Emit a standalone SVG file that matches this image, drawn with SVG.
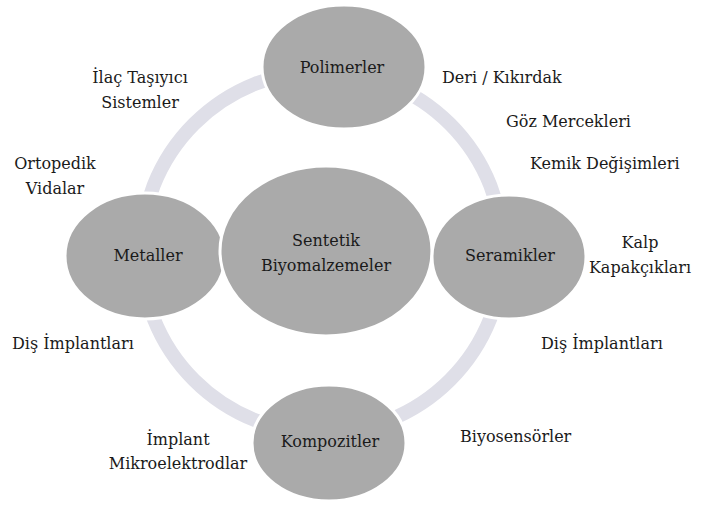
<svg xmlns="http://www.w3.org/2000/svg" width="701" height="506" viewBox="0 0 701 506">
<rect width="701" height="506" fill="#ffffff"/>
<g id="connectors">
<circle cx="322" cy="252" r="181" fill="none" stroke="#dfdfe8" stroke-width="14"/>
</g>
<g id="polimerler"><ellipse fill="#aaaaaa" stroke="#ffffff" stroke-width="3" cx="344" cy="67" rx="82" ry="62"/><text font-family="DejaVu Serif" font-size="16" fill="#1a1a1a" text-anchor="middle" x="342" y="73">Polimerler</text></g>
<g id="metaller"><ellipse fill="#aaaaaa" stroke="#ffffff" stroke-width="3" cx="145" cy="256" rx="80" ry="63"/><text font-family="DejaVu Serif" font-size="16" fill="#1a1a1a" text-anchor="middle" x="148" y="261">Metaller</text></g>
<g id="sentetik"><ellipse fill="#aaaaaa" stroke="#ffffff" stroke-width="3" cx="326" cy="251" rx="106" ry="85"/><text font-family="DejaVu Serif" font-size="16" fill="#1a1a1a" text-anchor="middle" x="326" y="246">Sentetik</text><text font-family="DejaVu Serif" font-size="16" fill="#1a1a1a" text-anchor="middle" x="326" y="271">Biyomalzemeler</text></g>
<g id="seramikler"><ellipse fill="#aaaaaa" stroke="#ffffff" stroke-width="3" cx="509" cy="257" rx="77" ry="62"/><text font-family="DejaVu Serif" font-size="16" fill="#1a1a1a" text-anchor="middle" x="510" y="261">Seramikler</text></g>
<g id="kompozitler"><ellipse fill="#aaaaaa" stroke="#ffffff" stroke-width="3" cx="329" cy="443" rx="77" ry="58"/><text font-family="DejaVu Serif" font-size="16" fill="#1a1a1a" text-anchor="middle" x="330" y="447">Kompozitler</text></g>
<g id="labels">
<text font-family="DejaVu Serif" font-size="16" fill="#1a1a1a" text-anchor="middle" x="140" y="83">İlaç Taşıyıcı</text>
<text font-family="DejaVu Serif" font-size="16" fill="#1a1a1a" text-anchor="middle" x="140" y="108">Sistemler</text>
<text font-family="DejaVu Serif" font-size="16" fill="#1a1a1a" text-anchor="middle" x="55" y="169">Ortopedik</text>
<text font-family="DejaVu Serif" font-size="16" fill="#1a1a1a" text-anchor="middle" x="55" y="194">Vidalar</text>
<text font-family="DejaVu Serif" font-size="16" fill="#1a1a1a" x="442" y="83">Deri / Kıkırdak</text>
<text font-family="DejaVu Serif" font-size="16" fill="#1a1a1a" x="506" y="127">Göz Mercekleri</text>
<text font-family="DejaVu Serif" font-size="16" fill="#1a1a1a" x="530" y="169">Kemik Değişimleri</text>
<text font-family="DejaVu Serif" font-size="16" fill="#1a1a1a" text-anchor="middle" x="640" y="248">Kalp</text>
<text font-family="DejaVu Serif" font-size="16" fill="#1a1a1a" text-anchor="middle" x="640" y="273">Kapakçıkları</text>
<text font-family="DejaVu Serif" font-size="16" fill="#1a1a1a" x="12" y="349">Diş İmplantları</text>
<text font-family="DejaVu Serif" font-size="16" fill="#1a1a1a" x="541" y="349">Diş İmplantları</text>
<text font-family="DejaVu Serif" font-size="16" fill="#1a1a1a" x="460" y="442">Biyosensörler</text>
<text font-family="DejaVu Serif" font-size="16" fill="#1a1a1a" text-anchor="middle" x="178" y="445">İmplant</text>
<text font-family="DejaVu Serif" font-size="16" fill="#1a1a1a" text-anchor="middle" x="178" y="469">Mikroelektrodlar</text>
</g>
</svg>
